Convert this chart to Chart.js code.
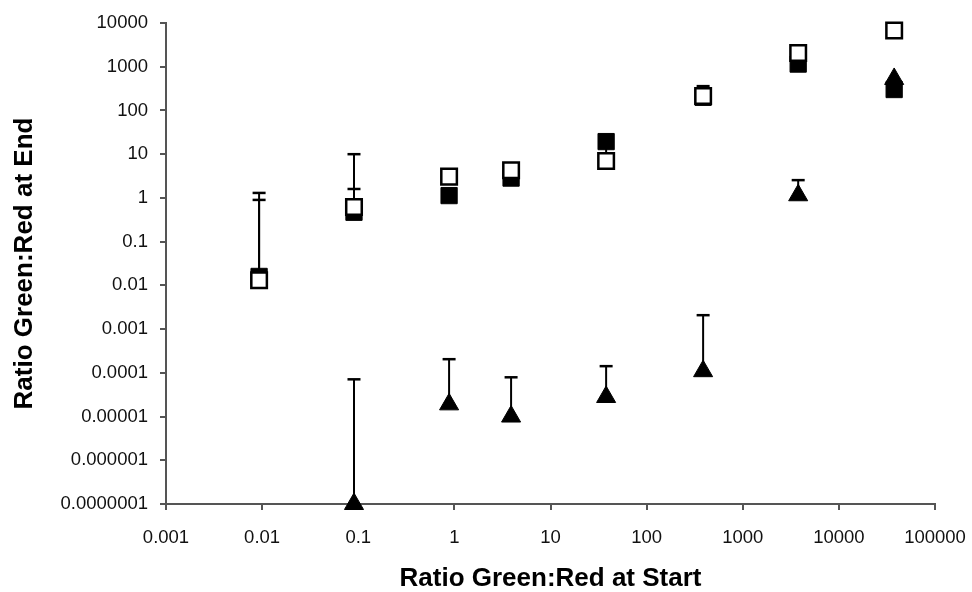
<!DOCTYPE html>
<html><head><meta charset="utf-8">
<script src="https://cdn.jsdelivr.net/npm/chart.js@4"></script>
<style>html,body{margin:0;padding:0;background:#fff;} #wrap{width:972px;height:592px;} canvas{display:block;}</style>
</head><body>
<div id="wrap"><canvas id="c" width="972" height="592"></canvas></div>
<script>
// Data
const startRatio = [0.0093, 0.0903, 0.881, 3.89, 37.9, 387, 3773, 37600];
const openSquareEnd = [0.0131, 0.62, 3.07, 4.3, 6.95, 214, 2060, 6730];
const openSquareErrHigh = [1.3, 10, null, null, 15, 360, null, null];
const filledSquareEnd = [0.016, 0.47, 1.13, 2.84, 19.4, 200, 1150, 301];
const filledSquareErrHigh = [0.9, 1.6, null, null, null, null, null, null];
const triangleEnd = [null, 1e-7, 1.9e-5, 1.0e-5, 2.8e-5, 1.09e-4, 1.15, 525];
const triangleErrHigh = [null, 7.1e-5, 2.05e-4, 7.9e-5, 1.42e-4, 2.08e-3, 2.55, null];
const xTickLabels = ['0.001','0.01','0.1','1','10','100','1000','10000','100000'];
const yTickLabels = ['0.0000001','0.000001','0.00001','0.0001','0.001','0.01','0.1','1','10','100','1000','10000'];
const xTitle = 'Ratio Green:Red at Start';
const yTitle = 'Ratio Green:Red at End';

const FONT = "'Liberation Sans', Arial, Helvetica, sans-serif";

function pts(ys) { return startRatio.map((x, i) => ({x: x, y: ys[i]})); }

const errorBars = {
  id: 'errorBars',
  beforeDatasetsDraw(chart) {
    const ctx = chart.ctx;
    const xs = chart.scales.x, ys = chart.scales.y;
    chart.data.datasets.forEach((ds) => {
      if (!ds.errHigh) return;
      ds.data.forEach((pt, j) => {
        const hi = ds.errHigh[j];
        if (!pt || pt.y == null || hi == null) return;
        const px = xs.getPixelForValue(pt.x);
        const py0 = ys.getPixelForValue(pt.y);
        const py1 = ys.getPixelForValue(hi);
        ctx.save();
        ctx.strokeStyle = '#000';
        ctx.lineWidth = 2;
        ctx.beginPath(); ctx.moveTo(px, py0); ctx.lineTo(px, py1); ctx.stroke();
        ctx.lineWidth = 2.5;
        ctx.beginPath(); ctx.moveTo(px - 6.5, py1); ctx.lineTo(px + 6.5, py1); ctx.stroke();
        ctx.restore();
      });
    });
  }
};

const axisGrid = {display: true, drawOnChartArea: false, drawTicks: true, tickLength: 6, color: '#555', lineWidth: 2};
const axisBorder = {display: true, color: '#555', width: 2};

new Chart(document.getElementById('c'), {
  type: 'scatter',
  data: {
    datasets: [
      {label: 'open', data: pts(openSquareEnd), errHigh: openSquareErrHigh, order: 0,
       pointStyle: 'rect', pointRadius: 11, backgroundColor: '#fff', borderColor: '#000', borderWidth: 2.5, clip: false},
      {label: 'filled', data: pts(filledSquareEnd), errHigh: filledSquareErrHigh, order: 1,
       pointStyle: 'rect', pointRadius: 11.5, backgroundColor: '#000', borderColor: '#000', borderWidth: 1, clip: false},
      {label: 'triangle', data: pts(triangleEnd), errHigh: triangleErrHigh, order: 2,
       pointStyle: 'triangle', pointRadius: 11, backgroundColor: '#000', borderColor: '#000', borderWidth: 1, clip: false}
    ]
  },
  options: {
    responsive: false,
    animation: false,
    devicePixelRatio: 1,
    layout: {padding: {left: 0, top: 23, right: 37, bottom: 0}},
    plugins: {legend: {display: false}, tooltip: {enabled: false}},
    scales: {
      x: {
        type: 'logarithmic', position: 'bottom', min: 0.001, max: 100000,
        afterBuildTicks: s => { s.ticks = xTickLabels.map(l => ({value: Number(l)})); },
        afterFit: s => { s.height = 88; s.paddingLeft = 0; s.paddingRight = 0; },
        grid: axisGrid, border: axisBorder,
        ticks: {autoSkip: false, maxRotation: 0, minRotation: 0, padding: 17, color: '#111',
                font: {family: FONT, size: 18.5},
                callback: (v, i) => xTickLabels[i]},
        title: {display: true, text: xTitle, color: '#000', padding: {top: 0, bottom: 0},
                font: {family: FONT, size: 26, weight: 'bold', lineHeight: 1}}
      },
      y: {
        type: 'logarithmic', position: 'left', min: 1e-7, max: 10000,
        afterBuildTicks: s => { s.ticks = yTickLabels.map(l => ({value: Number(l)})); },
        afterFit: s => { s.width = 166; s.paddingTop = 0; s.paddingBottom = 0; },
        grid: axisGrid, border: axisBorder,
        ticks: {autoSkip: false, padding: 12, color: '#111',
                font: {family: FONT, size: 18.5},
                callback: (v, i) => yTickLabels[i]},
        title: {display: true, text: yTitle, color: '#000', padding: {top: 12, bottom: 0},
                font: {family: FONT, size: 26, weight: 'bold', lineHeight: 1}}
      }
    }
  },
  plugins: [errorBars]
});
</script>
</body></html>
